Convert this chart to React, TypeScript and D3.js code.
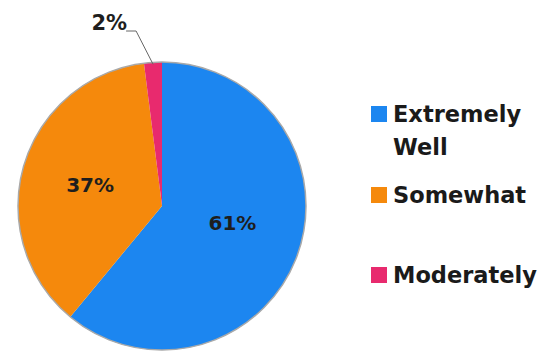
import React from "react";
import * as d3 from "d3";

const categories = ["Extremely Well", "Somewhat", "Moderately"];
const values = [61, 37, 2];
const labels = ["61%", "37%", "2%"];
const colors = ["#1c86f0", "#f5890c", "#e82a6e"];
const legendLines = [["Extremely", "Well"], ["Somewhat"], ["Moderately"]];

export default function App() {
  const W = 541, H = 353;
  const cx = 162, cy = 206, r = 144;
  const pie = d3.pie<number>().sort(null).value((d) => d)(values);
  const arc = d3.arc<d3.PieArcDatum<number>>().innerRadius(0).outerRadius(r);
  const labelArc = d3.arc<d3.PieArcDatum<number>>().innerRadius(r * 0.52).outerRadius(r * 0.52);
  const legendY = [114, 195, 275];
  const font = "'DejaVu Sans', Verdana, sans-serif";

  // leader for small slice
  const small = pie[2];
  const midA = (small.startAngle + small.endAngle) / 2;
  const p0: [number, number] = [Math.sin(midA) * (r - 2), -Math.cos(midA) * (r - 2)];
  const p1: [number, number] = [p0[0] - 17, -r - 31];
  const p2: [number, number] = [p1[0] - 10, p1[1]];

  return (
    <svg width={W} height={H} style={{ position: "absolute", left: 0, top: 0, background: "#fff" }}>
      <g transform={`translate(${cx},${cy})`}>
        {pie.map((d, i) => (
          <path key={i} d={arc(d) || ""} fill={colors[i]} />
        ))}
        <circle r={r} fill="none" stroke="#a9a9a9" strokeWidth={1.5} />
        {pie.slice(0, 2).map((d, i) => {
          const [x, y] = labelArc.centroid(d);
          return (
            <text key={i} x={x} y={y} dy={i === 0 ? "-0.05em" : "0.35em"} textAnchor="middle" fontFamily={font}
              fontWeight="bold" fontSize={20} fill="#1e1e1e">{labels[i]}</text>
          );
        })}
        <polyline points={[p0, p1, p2].map((p) => p.join(",")).join(" ")} fill="none" stroke="#666" strokeWidth={1} />
        <text x={p2[0] + 1} y={p2[1]} dy="-0.05em" textAnchor="end" fontFamily={font}
          fontWeight="bold" fontSize={21} fill="#1e1e1e">{labels[2]}</text>
      </g>
      {categories.map((c, i) => (
        <g key={c} transform={`translate(371,${legendY[i]})`}>
          <rect x={0} y={-8} width={16} height={16} fill={colors[i]} />
          {legendLines[i].map((t, j) => (
            <text key={j} x={22} y={j * 33} dy="0.36em" fontFamily={font} fontWeight="bold"
              fontSize={22.5} fill="#1a1a1a">{t}</text>
          ))}
        </g>
      ))}
    </svg>
  );
}
